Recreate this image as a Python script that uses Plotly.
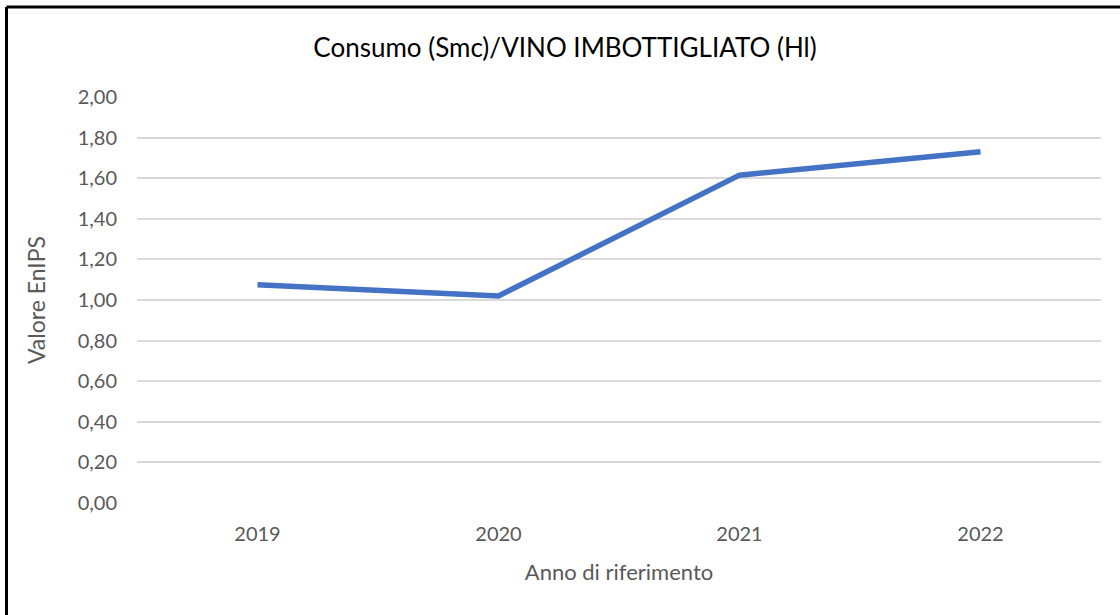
import plotly.graph_objects as go

years = ["2019", "2020", "2021", "2022"]
values = [1.075, 1.02, 1.615, 1.73]
y_ticks = [0.0, 0.2, 0.4, 0.6, 0.8, 1.0, 1.2, 1.4, 1.6, 1.8, 2.0]

W, H = 1120, 615
L, R, T, B = 137, 19, 97, 112
pw, ph = W - L - R, H - T - B

fig = go.Figure()
fig.add_trace(go.Scatter(
    x=years, y=values, mode="lines",
    line=dict(color="#4472C4", width=5.5),
    showlegend=False,
))

font_family = "Lato, 'Open Sans', sans-serif"
fig.update_layout(
    width=W, height=H,
    margin=dict(l=L, r=R, t=T, b=B),
    paper_bgcolor="white", plot_bgcolor="white",
    separators=",.",
    font=dict(family=font_family, color="#595959"),
    title=dict(
        text="Consumo (Smc)/VINO IMBOTTIGLIATO (Hl)",
        x=565 / W, xref="container", xanchor="center",
        y=1 - 48 / H, yref="container", yanchor="middle",
        font=dict(size=26, color="#000000", family=font_family),
    ),
    xaxis=dict(
        type="category", range=[-0.5, 3.5],
        showgrid=False, zeroline=False, showline=False,
        ticks="", tickfont=dict(size=20, color="#595959"),
        ticklabelstandoff=17,
        title=dict(text="Anno di riferimento", font=dict(size=22, color="#595959"), standoff=20),
    ),
    yaxis=dict(
        range=[0, 2.0],
        tickvals=y_ticks, tickformat=".2f",
        showgrid=True, gridcolor="#D9D9D9", gridwidth=1.5,
        zeroline=False, showline=False,
        ticks="", tickfont=dict(size=20, color="#595959"),
        ticklabelstandoff=19,
        title=dict(text="Valore EnIPS", font=dict(size=23, color="#595959"), standoff=25),
    ),
)

# outer border (left and top edges visible in reference)
bx = (6.5 - L) / pw
by = 1 + (T - 7) / ph
fig.add_shape(type="line", xref="paper", yref="paper",
              x0=bx, x1=(W + 5 - L) / pw, y0=by, y1=by,
              line=dict(color="black", width=3))
fig.add_shape(type="line", xref="paper", yref="paper",
              x0=bx, x1=bx, y0=by, y1=-(B + 5) / ph,
              line=dict(color="black", width=3))

fig.write_html("out.html", config={"displayModeBar": False},
               post_script="document.body.style.margin='0';")
